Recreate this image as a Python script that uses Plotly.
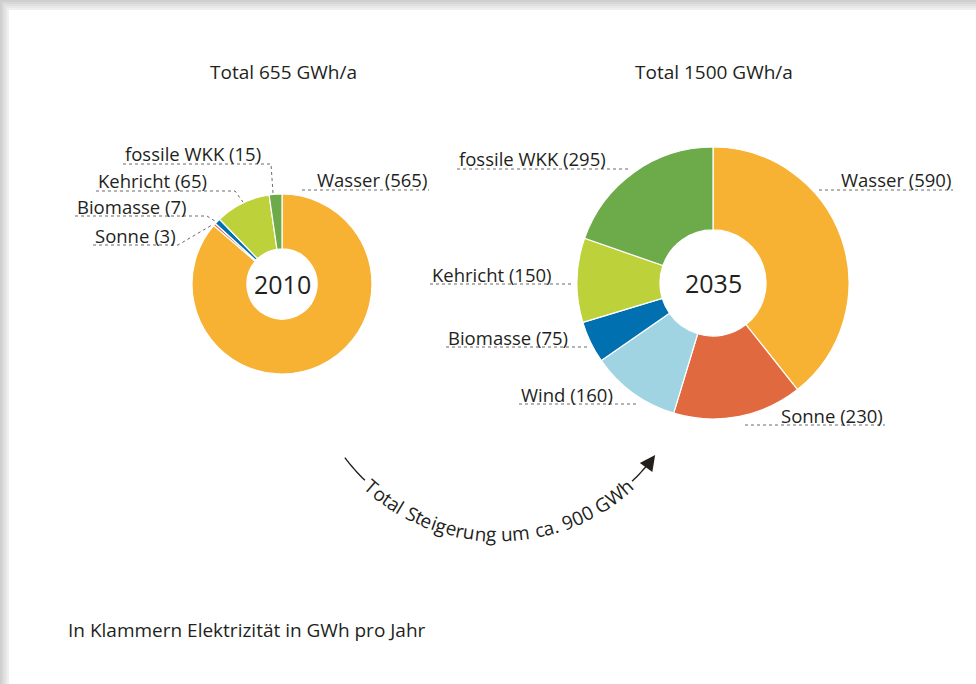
import math
import plotly.graph_objects as go

W, H = 976, 684

# ---------------- data ----------------
labels_2010 = ["Wasser", "Sonne", "Biomasse", "Kehricht", "fossile WKK"]
values_2010 = [565, 3, 7, 65, 15]
labels_2035 = ["Wasser", "Sonne", "Wind", "Biomasse", "Kehricht", "fossile WKK"]
values_2035 = [590, 230, 160, 75, 150, 295]
titles = ["Total 655 GWh/a", "Total 1500 GWh/a"]
years = ["2010", "2035"]
arc_text = "Total Steigerung um ca. 900 GWh"
footnote = "In Klammern Elektrizität in GWh pro Jahr"

# ---------------- styles ----------------
colors = {
    "Wasser": "#F7B133",
    "Sonne": "#E0693F",
    "Wind": "#A0D4E2",
    "Biomasse": "#0070B1",
    "Kehricht": "#BDD13A",
    "fossile WKK": "#6DAB4A",
}
TXT = "#231F1C"
FONT = "Open Sans"


def X(px):
    return px / W


def Y(py):
    return 1 - py / H


fig = go.Figure()

# pies: (center x, center y, radius) in pixels
pie_geo = [(282, 284, 90), (713, 283, 136)]
for labs, vals, (cx, cy, r) in zip([labels_2010, labels_2035], [values_2010, values_2035], pie_geo):
    fig.add_trace(go.Pie(
        labels=labs, values=vals, sort=False, direction="clockwise", rotation=0,
        hole=0.39, textinfo="none", hoverinfo="label+value", showlegend=False,
        marker=dict(colors=[colors[l] for l in labs], line=dict(color="white", width=1.2)),
        domain=dict(x=[X(cx - r), X(cx + r)], y=[Y(cy + r), Y(cy - r)]),
    ))

shapes = []
annotations = []

# page shadow (top and left)
shade = ["#F0F0F0", "#E8E8E8", "#E0E0E0", "#D8D8D8", "#CFCFCF"]
for i, c in enumerate(shade):
    shapes.append(dict(type="rect", xref="paper", yref="paper", x0=0, x1=1,
                       y0=Y(10 - 10 * i / len(shade)), y1=1, fillcolor=c, line_width=0, layer="below"))
    shapes.append(dict(type="rect", xref="paper", yref="paper", x0=0, x1=X(9 - 9 * i / len(shade)),
                       y0=0, y1=1, fillcolor=c, line_width=0, layer="below"))

# titles and centre years
for t, y, (cx, cy, r) in zip(titles, years, pie_geo):
    annotations.append(dict(text=t, x=X(cx + 1), y=Y(72), xref="paper", yref="paper",
                            showarrow=False, xanchor="center", yanchor="middle",
                            font=dict(size=19, color=TXT, family=FONT)))
    annotations.append(dict(text=y, x=X(cx), y=Y(cy), xref="paper", yref="paper",
                            showarrow=False, xanchor="center", yanchor="middle",
                            font=dict(size=25, color=TXT, family=FONT)))

# slice labels: anchor side, anchor x, underline y, leader polyline
label_layout_2010 = {
    "Wasser": ("right", 429, 190, [(302, 190), (429, 190)]),
    "fossile WKK": ("left", 123, 164, [(123, 164), (271, 164), (273, 193)]),
    "Kehricht": ("left", 96, 191, [(96, 191), (235, 191), (243, 202)]),
    "Biomasse": ("left", 75, 216, [(75, 216), (207, 216), (215, 221)]),
    "Sonne": ("left", 93, 245, [(93, 245), (178, 245), (212, 225)]),
}
label_layout_2035 = {
    "fossile WKK": ("left", 457, 169, [(457, 169), (631, 169)]),
    "Wasser": ("right", 953, 190, [(819, 190), (953, 190)]),
    "Kehricht": ("left", 430, 284, [(430, 284), (573, 284)]),
    "Biomasse": ("left", 446, 347, [(446, 347), (587, 347)]),
    "Wind": ("left", 519, 404, [(519, 404), (639, 404)]),
    "Sonne": ("right", 885, 425, [(745, 425), (885, 425)]),
}
for labs, vals, lay in [(labels_2010, values_2010, label_layout_2010),
                        (labels_2035, values_2035, label_layout_2035)]:
    for lab, val in zip(labs, vals):
        side, ax_, uy, pts = lay[lab]
        annotations.append(dict(text=f"{lab} ({val})", x=X(ax_), y=Y(uy - 10), xref="paper", yref="paper",
                                showarrow=False, xanchor=side, yanchor="middle",
                                font=dict(size=18.5, color=TXT, family=FONT)))
        path = "M " + " L ".join(f"{X(px)},{Y(py)}" for px, py in pts)
        shapes.append(dict(type="path", xref="paper", yref="paper", path=path,
                           line=dict(color="#6A6A6A", width=1, dash="dot")))

# curved arrow with text along an arc
acx, acy, AR = 499, 341.5, 193
char_w = {'T': 0.55, 'o': 0.60, 't': 0.35, 'a': 0.56, 'l': 0.26, ' ': 0.26, 'S': 0.55, 'e': 0.56,
          'i': 0.26, 'g': 0.55, 'r': 0.41, 'u': 0.61, 'n': 0.61, 'm': 0.93, 'c': 0.48, '.': 0.27,
          '9': 0.57, '0': 0.57, 'G': 0.72, 'W': 0.94, 'h': 0.61}
ws = [char_w.get(c, 0.55) for c in arc_text]
centers = []
acc = 0
for w in ws:
    centers.append(acc + w / 2)
    acc += w
phi_a, phi_b = math.radians(-41.2), math.radians(41.1)
c0, c1 = centers[0], centers[-1]
for ch, cpos in zip(arc_text, centers):
    if ch == " ":
        continue
    phi = phi_a + (cpos - c0) / (c1 - c0) * (phi_b - phi_a)
    px = acx + AR * math.sin(phi)
    py = acy + AR * math.cos(phi)
    annotations.append(dict(text=ch, x=X(px), y=Y(py), xref="paper", yref="paper", showarrow=False,
                            xanchor="center", yanchor="middle", textangle=-math.degrees(phi),
                            font=dict(size=19, color=TXT, family=FONT)))


def arc_path(d0, d1, n=8):
    pts = []
    for k in range(n + 1):
        p = math.radians(d0 + (d1 - d0) * k / n)
        pts.append((acx + AR * math.sin(p), acy + AR * math.cos(p)))
    return "M " + " L ".join(f"{X(a)},{Y(b)}" for a, b in pts)


shapes.append(dict(type="path", xref="paper", yref="paper", path=arc_path(-53, -44),
                   line=dict(color=TXT, width=1.4)))
shapes.append(dict(type="path", xref="paper", yref="paper", path=arc_path(43.6, 51),
                   line=dict(color=TXT, width=1.4)))
tip = math.radians(54)
tx, ty = acx + AR * math.sin(tip), acy + AR * math.cos(tip)
annotations.append(dict(text="", x=X(tx), y=Y(ty), xref="paper", yref="paper", showarrow=True,
                        ax=-math.cos(tip) * 14, ay=math.sin(tip) * 14, axref="pixel", ayref="pixel",
                        arrowhead=2, arrowsize=2.2, arrowwidth=1.4, arrowcolor=TXT))

# footnote
annotations.append(dict(text=footnote, x=X(66), y=Y(630), xref="paper", yref="paper", showarrow=False,
                        xanchor="left", yanchor="middle", font=dict(size=19, color=TXT, family=FONT)))

fig.update_layout(
    width=W, height=H, margin=dict(l=0, r=0, t=0, b=0),
    paper_bgcolor="white", plot_bgcolor="white",
    font=dict(family=FONT, color=TXT),
    shapes=shapes, annotations=annotations, showlegend=False,
)

fig.write_html("out.html", config={"displayModeBar": False},
               post_script="document.body.style.margin='0px';document.body.style.overflow='hidden';")
